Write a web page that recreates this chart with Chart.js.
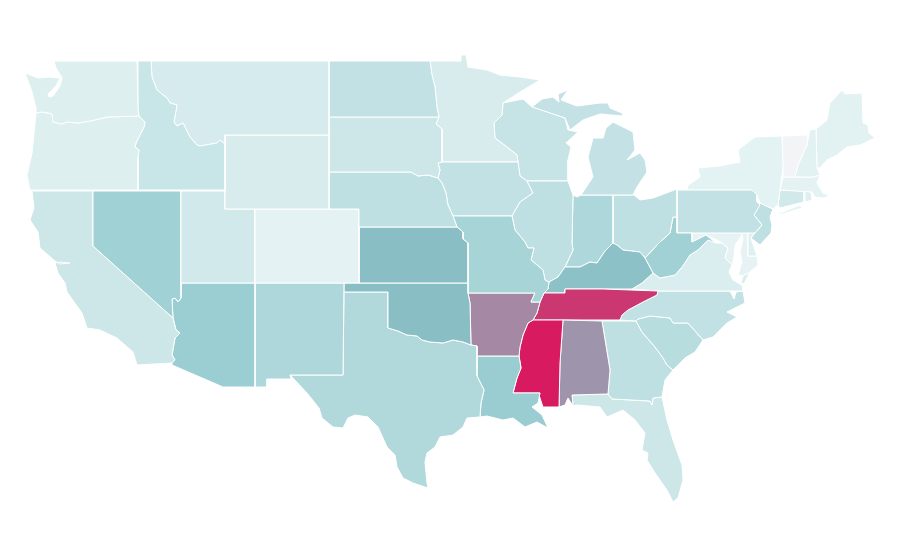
<!DOCTYPE html>
<html>
<head>
<meta charset="utf-8">
<title>US states choropleth</title>
<script src="https://cdn.jsdelivr.net/npm/chart.js@4/dist/chart.umd.js"></script>
<style>
  html, body { margin: 0; padding: 0; background: #fff; }
  canvas { display: block; }
</style>
</head>
<body>
<canvas id="map" width="900" height="560"></canvas>
<script>
// values estimated from the shading of each state, same order as stateRings
const stateNames = ['Washington','Oregon','Idaho','Montana','Wyoming','North Dakota','South Dakota','Nebraska','Colorado','Utah','Nevada','California','Arizona','New Mexico','Kansas','Oklahoma','Texas','Missouri','Arkansas','Louisiana','Mississippi','Alabama','Tennessee','Kentucky','Illinois','Iowa','Minnesota','Wisconsin','Michigan','Indiana','Ohio','West Virginia','Pennsylvania','New York','Vermont','New Hampshire','Maine','Massachusetts','Connecticut','Rhode Island','New Jersey','Delaware','Maryland','Virginia','North Carolina','South Carolina','Georgia','Florida'];
const stateValues = [10.6,10.6,20,14,13,22.7,18,24.4,7.5,16,37.4,18,40,32,50,50,30,35,66.5,40.5,100,62.5,91.5,48,24.4,22.7,13,21,22,32,24,37,22.7,8.4,0,9,9,8,16,11,24,10,7,12,22.7,27,24,18];

// state outlines in map units, one or more rings per state
const stateRings = [
  [[[54,61],[137,61],[138,110],[139,116],[108,117],[90,121],[78,123],[67,122],[62,124],[53,122],[52,114],[43,112],[36,113],[36,108],[32,92],[25,73],[38,78],[50,77],[60,78],[56,86],[48,94],[49,97],[53,96],[60,86],[62,78],[56,68]]],
  [[[36,113],[43,112],[52,114],[53,122],[62,124],[67,122],[78,123],[90,121],[108,117],[139,116],[145,122],[144,127],[136,143],[135,147],[139,150],[138,157],[138,190],[30,190],[27,175],[32,153]]],
  [[[138,61],[151,61],[152,77],[157,90],[167,98],[170,103],[177,105],[174,122],[177,126],[183,123],[190,137],[197,145],[200,146],[217,143],[220,140],[225,144],[225,190],[138,190],[138,157],[139,150],[135,147],[136,143],[144,127],[145,122],[139,116],[138,110]]],
  [[[151,61],[329,61],[329,135],[225,135],[225,144],[220,140],[217,143],[200,146],[197,145],[190,137],[183,123],[177,126],[174,122],[177,105],[170,103],[167,98],[157,90],[152,77]]],
  [[[225,135],[329,135],[329,209],[225,209]]],
  [[[329,61],[430,61],[432,75],[435,87],[437,107],[439,117],[329,117]]],
  [[[329,117],[439,117],[436,124],[442,129],[442,162],[438,163],[440,170],[438,178],[428,175],[418,176],[411,172],[329,172]]],
  [[[329,172],[411,172],[418,176],[428,175],[438,178],[442,183],[446,193],[448,205],[453,216],[457,227],[359,227],[359,209],[329,209]]],
  [[[255,209],[359,209],[359,283],[255,283]]],
  [[[181,191],[225,191],[225,209],[255,209],[255,283],[181,283]]],
  [[[93,191],[181,191],[181,298],[178,302],[175,298],[172,299],[173,318],[93,246]]],
  [[[32,191],[93,191],[93,246],[173,318],[176,330],[180,333],[175,338],[172,355],[175,360],[172,363],[137,365],[133,352],[117,338],[100,330],[87,328],[82,313],[67,292],[65,283],[58,273],[55,263],[60,262],[70,263],[60,264],[55,261],[40,248],[38,232],[30,220],[34,208]]],
  [[[181,283],[255,283],[255,387],[223,387],[172,365],[172,363],[175,360],[172,355],[175,338],[180,333],[176,330],[173,318],[172,299],[175,298],[178,302],[181,298]]],
  [[[255,283],[344,283],[343,375],[290,375],[291,379],[267,379],[267,387],[255,387]]],
  [[[359,227],[457,227],[463,232],[463,239],[468,243],[468,283],[359,283]]],
  [[[344,283],[468,283],[468,293],[470,303],[471,345],[463,342],[453,340],[443,343],[430,342],[422,340],[417,336],[407,335],[398,331],[388,328],[388,292],[344,292]]],
  [[[344,292],[388,292],[388,328],[398,331],[407,335],[417,336],[422,340],[430,342],[443,343],[453,340],[463,342],[471,345],[477,346],[477,376],[480,382],[484,390],[481,403],[480,417],[467,418],[463,427],[453,435],[440,437],[435,447],[427,453],[425,462],[427,483],[428,488],[413,483],[403,478],[397,467],[395,455],[387,447],[378,427],[368,417],[355,415],[348,418],[343,428],[333,427],[322,418],[319,408],[307,393],[292,377],[290,375],[343,375]]],
  [[[453,216],[512,216],[515,230],[525,242],[528,248],[534,248],[531,260],[543,270],[545,280],[549,282],[548,289],[544,293],[540,302],[531,302],[535,293],[468,293],[468,243],[463,239],[463,232],[457,227]]],
  [[[468,293],[535,293],[531,302],[540,302],[537,313],[533,320],[528,323],[523,335],[520,347],[519,356],[477,356],[477,346],[471,345],[470,303]]],
  [[[477,356],[519,356],[521,368],[517,378],[513,393],[540,393],[538,403],[532,407],[542,415],[548,428],[537,422],[525,427],[513,418],[503,420],[487,416],[480,417],[481,403],[484,390],[480,382],[477,376]]],
  [[[533,320],[563,320],[560,363],[559,407],[543,407],[539,395],[540,393],[513,393],[517,378],[521,368],[519,356],[520,347],[523,335],[528,323]]],
  [[[563,320],[602,321],[610,370],[608,394],[572,395],[573,406],[568,398],[565,405],[559,407],[560,363]]],
  [[[544,293],[565,293],[565,289],[603,289],[658,291],[657,295],[643,302],[628,310],[622,315],[620,320],[533,320],[537,313],[540,302]]],
  [[[549,282],[558,277],[565,267],[580,267],[590,262],[597,263],[605,251],[613,243],[617,245],[623,250],[640,252],[645,258],[653,273],[642,283],[632,289],[565,289],[565,293],[544,293],[548,289]]],
  [[[527,181],[568,181],[573,195],[572,243],[573,250],[565,267],[558,277],[549,282],[545,280],[543,270],[531,260],[534,248],[528,248],[525,242],[515,230],[512,216],[520,202],[533,193]]],
  [[[442,162],[518,162],[520,176],[527,181],[533,193],[520,202],[512,216],[453,216],[448,205],[446,193],[442,183],[438,178],[440,170],[438,163]]],
  [[[430,61],[461,61],[461,55],[466,55],[468,67],[487,70],[500,75],[520,77],[540,80],[520,92],[503,103],[502,115],[494,123],[495,138],[507,147],[517,155],[518,162],[442,162],[442,129],[436,124],[439,117],[437,107],[435,87],[432,75]]],
  [[[503,103],[523,99],[532,107],[550,113],[565,118],[568,130],[578,132],[566,143],[571,147],[568,160],[568,181],[527,181],[520,176],[518,162],[517,155],[507,147],[495,138],[494,123],[502,115]]],
  [[[532,107],[542,99],[553,97],[559,102],[558,94],[568,90],[561,100],[577,106],[600,103],[608,103],[610,108],[622,113],[623,116],[600,114],[583,120],[570,130],[565,118],[550,113]],
   [[613,122],[633,132],[635,150],[627,160],[640,153],[645,160],[647,172],[637,187],[633,195],[581,195],[593,177],[588,157],[593,138],[603,138],[606,128]]],
  [[[573,195],[577,197],[581,195],[613,195],[613,243],[605,251],[597,263],[590,262],[580,267],[565,267],[573,250],[572,243]]],
  [[[613,195],[634,195],[640,200],[653,198],[677,189],[677,217],[673,217],[670,233],[660,242],[657,245],[645,258],[640,252],[623,250],[617,245],[613,243]]],
  [[[677,217],[677,233],[692,233],[692,242],[706,235],[716,243],[708,240],[698,250],[690,255],[682,267],[675,275],[660,278],[653,273],[645,258],[657,245],[660,242],[670,233],[673,217]]],
  [[[677,190],[687,190],[687,186],[687,190],[752,190],[757,195],[757,202],[760,205],[754,215],[762,225],[755,233],[677,233]]],
  [[[687,186],[700,177],[698,168],[720,166],[740,162],[738,150],[755,137],[782,136],[783,167],[780,190],[778,205],[773,209],[760,203],[757,195],[752,190],[687,190]],
   [[775,215],[800,205],[802,208],[782,214]]],
  [[[782,136],[808,135],[807,145],[798,165],[795,177],[783,177],[783,167]]],
  [[[810,130],[816,129],[817,168],[820,175],[813,177],[795,177],[798,165],[807,145]]],
  [[[816,129],[827,120],[830,103],[842,90],[845,94],[862,93],[863,123],[868,125],[869,133],[875,138],[860,145],[847,147],[837,155],[827,160],[820,168],[817,168]]],
  [[[783,177],[795,177],[813,177],[820,175],[817,183],[823,193],[830,196],[823,198],[815,197],[812,192],[780,190]]],
  [[[780,190],[804,191],[804,202],[780,208],[778,205]]],
  [[[805,191],[811,192],[812,200],[805,202]]],
  [[[760,203],[773,209],[770,217],[772,225],[771,233],[760,245],[751,238],[755,233],[762,225],[754,215]]],
  [[[748,232],[755,233],[751,238],[757,256],[748,256]]],
  [[[692,233],[748,232],[748,256],[757,256],[758,265],[750,272],[743,276],[738,275],[742,262],[740,252],[743,240],[742,234],[740,238],[735,245],[734,257],[732,265],[725,258],[728,248],[722,243],[717,240],[706,235],[692,242]]],
  [[[632,289],[642,283],[653,273],[660,278],[675,275],[682,267],[690,255],[698,250],[708,240],[716,243],[722,243],[728,248],[725,258],[732,265],[729,272],[733,280],[742,285],[743,291],[658,291]],
   [[750,272],[743,276],[741,283],[744,284]]],
  [[[658,291],[730,291],[734,299],[736,292],[743,291],[745,303],[727,312],[737,317],[727,323],[713,337],[703,340],[688,323],[673,323],[670,318],[650,316],[638,319],[636,321],[620,320],[622,315],[628,310],[643,302],[657,295]]],
  [[[636,321],[638,319],[650,316],[670,318],[673,323],[688,323],[703,340],[695,352],[685,358],[673,370],[667,365],[663,358],[655,347],[642,332]]],
  [[[602,321],[636,321],[642,332],[655,347],[663,358],[667,365],[673,370],[665,380],[662,397],[653,398],[652,405],[650,401],[612,399],[608,394],[610,370]]],
  [[[572,395],[608,394],[612,399],[650,401],[652,405],[653,398],[662,397],[667,420],[673,440],[682,465],[683,480],[678,498],[673,502],[667,490],[655,473],[647,460],[648,453],[642,450],[645,433],[635,420],[623,410],[607,417],[600,407],[577,405],[573,406]]]
];

// colour ramp used for the shading
const rampStops = [0, 8, 40, 50, 100];
const rampColors = [[243,244,246],[228,242,243],[154,206,210],[138,190,197],[216,27,96]];

function valueColor(value) {
    let i = 0;
    while (i < rampStops.length - 2 && value > rampStops[i + 1]) i++;
    const t = (value - rampStops[i]) / (rampStops[i + 1] - rampStops[i]);
    const c = rampColors[i].map((from, k) => Math.round(from + (rampColors[i + 1][k] - from) * t));
    return `rgb(${c[0]}, ${c[1]}, ${c[2]})`;
}

const datasets = [];
stateNames.forEach((name, i) => {
    stateRings[i].forEach(ring => {
        const closed = ring.concat([ring[0]]);
        datasets.push({
            label: name,
            data: closed.map(p => ({ x: p[0], y: p[1] })),
            showLine: true,
            fill: 'shape',
            backgroundColor: valueColor(stateValues[i]),
            borderColor: '#ffffff',
            borderWidth: 1,
            pointRadius: 0,
            tension: 0
        });
    });
});

new Chart(document.getElementById('map').getContext('2d'), {
    type: 'scatter',
    data: { datasets },
    options: {
        responsive: false,
        animation: false,
        layout: { padding: 0 },
        plugins: { legend: { display: false }, tooltip: { enabled: false } },
        scales: {
            x: { type: 'linear', display: false, min: 0, max: 900 },
            y: { type: 'linear', display: false, min: 0, max: 560, reverse: true }
        }
    }
});
</script>
</body>
</html>
